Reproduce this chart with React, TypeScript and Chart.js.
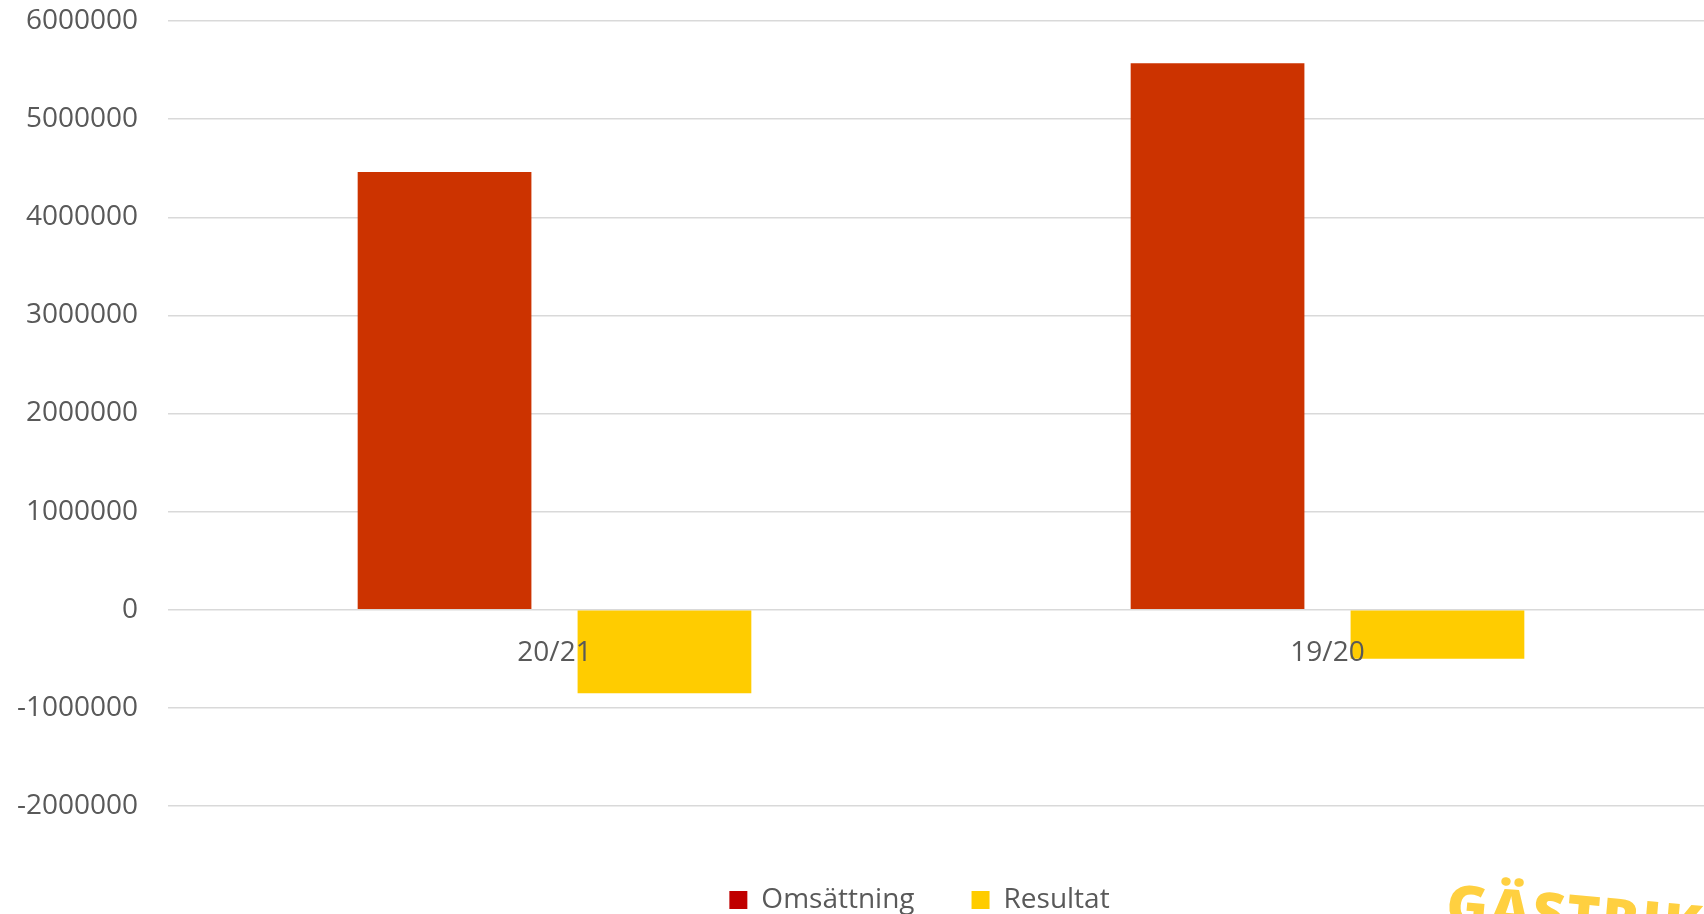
import React, { useEffect, useRef } from "react";
import { Chart, registerables } from "chart.js";

Chart.register(...registerables);

const categories = ["20/21", "19/20"];
const seriesNames = ["Omsättning", "Resultat"];
const omsattning = [4460000, 5570000];
const resultat = [-850000, -500000];
const barColors = ["#CC3300", "#FFCC00"];
const legendColors = ["#C00000", "#FFCC00"];
const yMin = -2000000;
const yMax = 6000000;
const yStep = 1000000;
const logoText = "GÄSTRIKE";

const FONT = "'Open Sans', 'Noto Sans', sans-serif";
const TEXT = "#595959";

const logoPlugin = {
  id: "logo",
  afterDraw(chart: any) {
    const ctx = chart.ctx;
    ctx.save();
    ctx.translate(chart.width - 269, chart.height);
    ctx.rotate(0.085);
    ctx.fillStyle = "#FFD040";
    ctx.font = `800 56px ${FONT}`;
    try {
      (ctx as any).letterSpacing = "2px";
    } catch (e) {}
    ctx.textBaseline = "alphabetic";
    ctx.textAlign = "left";
    ctx.fillText(logoText, 0, 0);
    ctx.restore();
  },
};

const legendShiftPlugin = {
  id: "legendShift",
  afterLayout(chart: any) {
    const lg = chart.legend;
    if (lg) {
      lg.left += 54;
      lg.right += 54;
    }
  },
};

export default function App() {
  const ref = useRef<HTMLCanvasElement | null>(null);

  useEffect(() => {
    document.body.style.margin = "0";
    const canvas = ref.current;
    if (!canvas) return;
    const chart = new Chart(canvas, {
      type: "bar",
      data: {
        labels: categories,
        datasets: [
          {
            label: seriesNames[0],
            data: omsattning,
            backgroundColor: barColors[0],
            borderWidth: 0,
            categoryPercentage: 0.569,
            barPercentage: 0.79,
          },
          {
            label: seriesNames[1],
            data: resultat,
            backgroundColor: barColors[1],
            borderWidth: 0,
            categoryPercentage: 0.569,
            barPercentage: 0.79,
          },
        ],
      },
      options: {
        animation: false,
        responsive: true,
        maintainAspectRatio: false,
        devicePixelRatio: 1,
        layout: { padding: { left: 17, right: 0, top: 21, bottom: 0 } },
        plugins: {
          tooltip: { enabled: false },
          legend: {
            position: "bottom",
            title: {
              display: true,
              text: "",
              font: { size: 1, lineHeight: 1 },
              padding: { top: 22, bottom: 0 },
            },
            labels: {
              boxWidth: 18,
              boxHeight: 18,
              padding: 57,
              color: TEXT,
              font: { family: FONT, size: 28 },
              generateLabels: () =>
                seriesNames.map((n, i) => ({
                  text: n,
                  fillStyle: legendColors[i],
                  strokeStyle: legendColors[i],
                  lineWidth: 0,
                  hidden: false,
                  datasetIndex: i,
                  fontColor: TEXT,
                })),
            },
          },
        },
        scales: {
          x: {
            position: { y: 0 } as any,
            grid: { display: false, drawTicks: false },
            border: { display: false },
            ticks: {
              z: 1,
              color: TEXT,
              font: { family: FONT, size: 28 },
              padding: 26,
              maxRotation: 0,
            },
          },
          y: {
            min: yMin,
            max: yMax,
            afterFit: (s: any) => {
              s.width = 151;
              s.paddingTop = 0;
              s.paddingBottom = 0;
            },
            grid: { color: "#D9D9D9", lineWidth: 1.5, drawTicks: false },
            border: { display: false },
            ticks: {
              stepSize: yStep,
              color: TEXT,
              padding: 30,
              font: { family: FONT, size: 28 },
              callback: (v: any) => String(v),
            },
          },
        },
      },
      plugins: [logoPlugin, legendShiftPlugin],
    });
    return () => chart.destroy();
  }, []);

  return (
    <div style={{ width: 1704, height: 914, overflow: "hidden", position: "relative", background: "#fff" }}>
      <div style={{ position: "absolute", left: 0, top: 0, width: 1714, height: 924 }}>
        <canvas ref={ref} />
      </div>
    </div>
  );
}
